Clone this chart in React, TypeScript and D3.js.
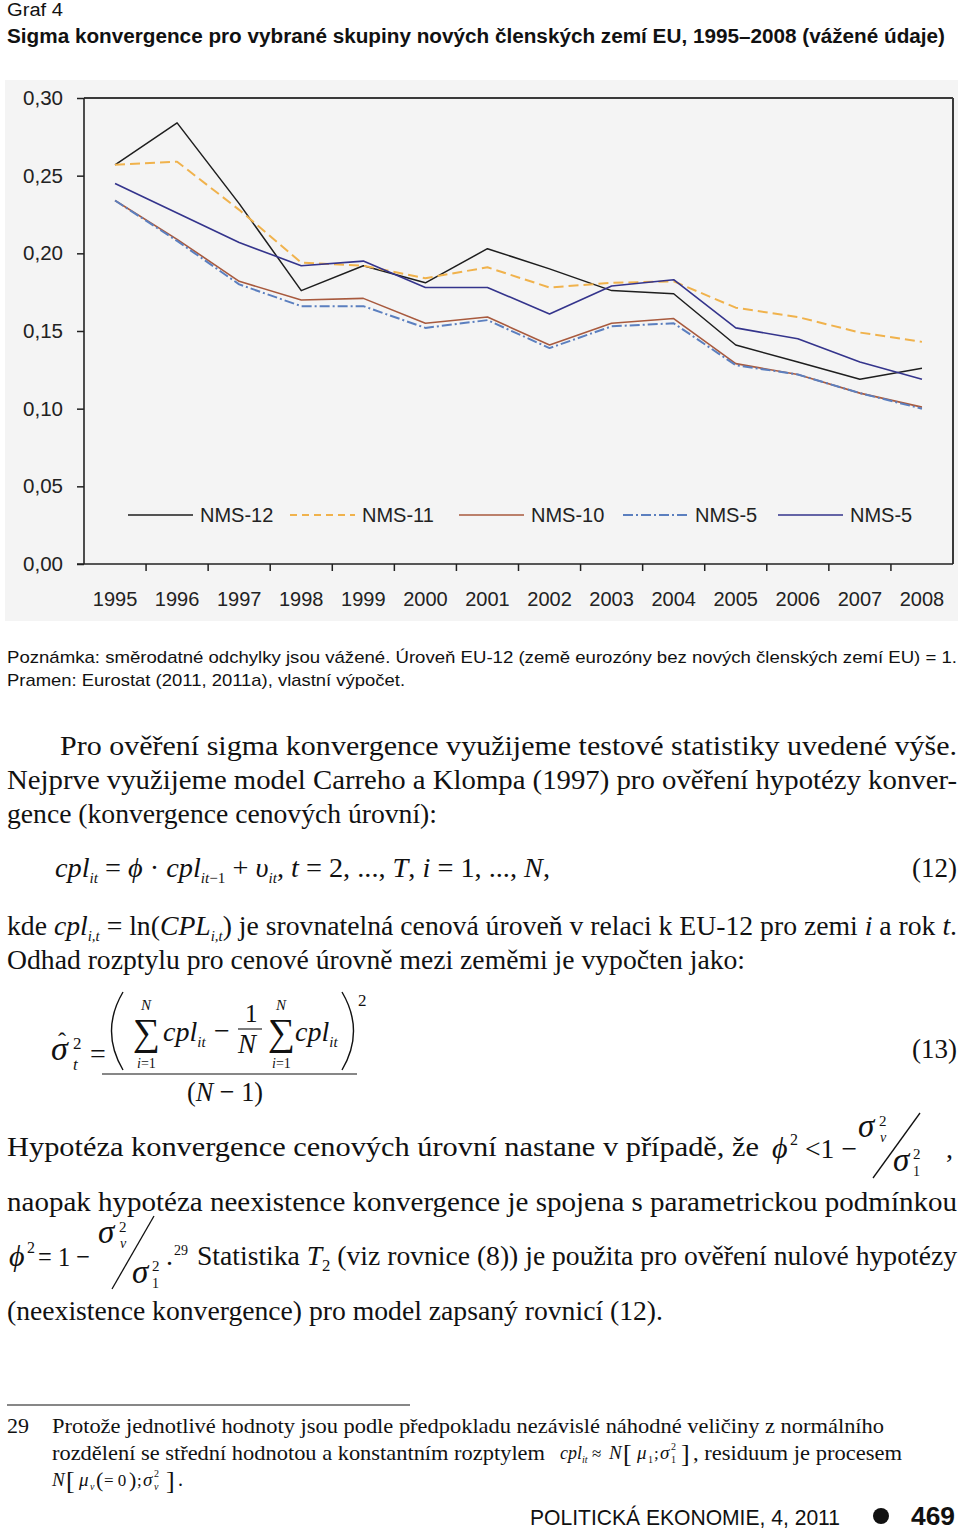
import React, { useEffect, useRef } from 'react';
import * as d3 from 'd3';

const years = ['1995','1996','1997','1998','1999','2000','2001','2002','2003','2004','2005','2006','2007','2008'];
const nms12 = [0.257,0.284,0.232,0.176,0.192,0.181,0.203,0.190,0.176,0.174,0.141,0.130,0.119,0.126];
const nms11 = [0.257,0.259,0.228,0.194,0.192,0.184,0.191,0.178,0.181,0.182,0.165,0.159,0.149,0.143];
const nms10 = [0.234,0.209,0.182,0.170,0.171,0.155,0.159,0.141,0.155,0.158,0.129,0.122,0.110,0.101];
const nms5a = [0.234,0.208,0.180,0.166,0.166,0.152,0.157,0.139,0.153,0.155,0.128,0.122,0.110,0.100];
const nms5b = [0.245,0.226,0.207,0.192,0.195,0.178,0.178,0.161,0.179,0.183,0.152,0.145,0.130,0.119];
const yTicks = [0, 0.05, 0.1, 0.15, 0.2, 0.25, 0.3];
const seriesNames = ['NMS-12', 'NMS-11', 'NMS-10', 'NMS-5', 'NMS-5'];

const serif = "'Liberation Serif', 'Times New Roman', serif";
const sans = "'Liberation Sans', Arial, sans-serif";

const series = [
  { name: seriesNames[0], values: nms12, color: '#1e1e1e', width: 1.5, dash: '', legendDash: '' },
  { name: seriesNames[1], values: nms11, color: '#f0b24c', width: 2, dash: '10,5', legendDash: '7,5' },
  { name: seriesNames[2], values: nms10, color: '#a85a3e', width: 1.6, dash: '', legendDash: '' },
  { name: seriesNames[3], values: nms5a, color: '#5b7fbf', width: 2, dash: '10,3,2,3', legendDash: '10,3,2,3' },
  { name: seriesNames[4], values: nms5b, color: '#34348c', width: 1.6, dash: '', legendDash: '' },
];
const legendX = [128, 290, 459, 623, 778];

const PL = 84, PR = 953, PT = 98, PB = 564;

const Sub = ({ children, size = 15, d = 6 }: any) => (
  <tspan baselineShift={-d} fontSize={size}>{children}</tspan>
);

export default function App() {
  const axisRef = useRef<SVGGElement>(null);
  const x = d3.scaleBand<string>().domain(years).range([PL, PR]).padding(0);
  const y = d3.scaleLinear().domain([0, 0.3]).range([PB, PT]);
  const line = d3.line<number>()
    .x((_, i) => (x(years[i]) as number) + x.bandwidth() / 2)
    .y(d => y(d));

  useEffect(() => {
    const g = d3.select(axisRef.current);
    g.selectAll('*').remove();
    const ya = g.append('g').attr('transform', `translate(${PL},0)`)
      .call(d3.axisLeft(y).tickValues(yTicks).tickSize(7).tickPadding(14)
        .tickFormat(d => d3.format('.2f')(d as number).replace('.', ',')));
    ya.select('.domain').remove();
    ya.selectAll('line').attr('stroke', '#222').attr('stroke-width', 1.5);
    ya.selectAll('text').attr('font-family', sans).attr('font-size', 20).attr('fill', '#222')
      .attr('textLength', 40).attr('lengthAdjust', 'spacingAndGlyphs');

    const xa = g.append('g').attr('transform', `translate(0,${PB})`)
      .call(d3.axisBottom(x).tickSize(0).tickPadding(0));
    xa.select('.domain').remove();
    xa.selectAll('text').attr('font-family', sans).attr('font-size', 20).attr('fill', '#222')
      .attr('y', 42).attr('dy', 0);
    xa.selectAll('.bound').data(years.slice(1)).enter().append('line')
      .attr('x1', d => x(d) as number).attr('x2', d => x(d) as number)
      .attr('y1', 0).attr('y2', 7).attr('stroke', '#222').attr('stroke-width', 1.5);
  }, []);

  return (
    <div style={{ position: 'absolute', left: 0, top: 0 }}>
      <svg width={960} height={1528} style={{ display: 'block', background: '#fff' }}>
        {/* header */}
        <text x={7} y={16} fontFamily={sans} fontSize={18} fill="#111" textLength={56} lengthAdjust="spacingAndGlyphs">Graf 4</text>
        <text x={7} y={43} fontFamily={sans} fontSize={20} fontWeight="bold" fill="#111" textLength={938} lengthAdjust="spacingAndGlyphs">Sigma konvergence pro vybrané skupiny nových členských zemí EU, 1995–2008 (vážené údaje)</text>

        {/* chart */}
        <rect x={5} y={80} width={953} height={541} fill="#f4f4f4" />
        <g ref={axisRef} />
        {series.map((s, i) => (
          <path key={i} d={line(s.values) || ''} fill="none" stroke={s.color} strokeWidth={s.width}
            strokeDasharray={s.dash || undefined} strokeLinejoin="round" />
        ))}
        <line x1={PL} y1={PT} x2={PR} y2={PT} stroke="#3a3a3a" strokeWidth={2} />
        <line x1={PR} y1={PT} x2={PR} y2={PB} stroke="#3a3a3a" strokeWidth={2} />
        <line x1={PL} y1={PT} x2={PL} y2={PB} stroke="#222" strokeWidth={1.6} />
        <line x1={PL - 7} y1={PB} x2={PR} y2={PB} stroke="#222" strokeWidth={1.6} />
        {series.map((s, i) => (
          <g key={i}>
            <line x1={legendX[i]} x2={legendX[i] + 65} y1={515} y2={515} stroke={s.color}
              strokeWidth={s.width} strokeDasharray={s.legendDash || undefined} />
            <text x={legendX[i] + 72} y={522} fontFamily={sans} fontSize={20} fill="#222">{s.name}</text>
          </g>
        ))}

        {/* notes */}
        <text x={7} y={663} fontFamily={sans} fontSize={17} fill="#111" textLength={950} lengthAdjust="spacingAndGlyphs">Poznámka: směrodatné odchylky jsou vážené. Úroveň EU-12 (země eurozóny bez nových členských zemí EU) = 1.</text>
        <text x={7} y={686} fontFamily={sans} fontSize={17} fill="#111" textLength={398} lengthAdjust="spacingAndGlyphs">Pramen: Eurostat (2011, 2011a), vlastní výpočet.</text>

        <g fontFamily={serif} fontSize={28} fill="#111">
          <text x={60} y={755} textLength={897} lengthAdjust="spacingAndGlyphs">Pro ověření sigma konvergence využijeme testové statistiky uvedené výše.</text>
          <text x={7} y={789} textLength={950} lengthAdjust="spacingAndGlyphs">Nejprve využijeme model Carreho a Klompa (1997) pro ověření hypotézy konver-</text>
          <text x={7} y={823} textLength={430} lengthAdjust="spacingAndGlyphs">gence (konvergence cenových úrovní):</text>

          {/* eq 12 */}
          <text x={55} y={877} textLength={495} lengthAdjust="spacingAndGlyphs">
            <tspan fontStyle="italic">cpl</tspan><Sub><tspan fontStyle="italic">it</tspan></Sub>
            <tspan> = </tspan><tspan fontStyle="italic">ϕ</tspan><tspan> · </tspan>
            <tspan fontStyle="italic">cpl</tspan><Sub><tspan fontStyle="italic">it</tspan>−1</Sub>
            <tspan> + </tspan><tspan fontStyle="italic">υ</tspan><Sub><tspan fontStyle="italic">it</tspan></Sub>
            <tspan>,  </tspan><tspan fontStyle="italic">t</tspan><tspan> = 2, ..., </tspan><tspan fontStyle="italic">T</tspan>
            <tspan>,  </tspan><tspan fontStyle="italic">i</tspan><tspan> = 1, ..., </tspan><tspan fontStyle="italic">N</tspan><tspan>,</tspan>
          </text>
          <text x={912} y={877} textLength={45} lengthAdjust="spacingAndGlyphs">(12)</text>

          <text x={7} y={935} textLength={950} lengthAdjust="spacingAndGlyphs">
            <tspan>kde </tspan><tspan fontStyle="italic">cpl</tspan><Sub><tspan fontStyle="italic">i,t</tspan></Sub>
            <tspan> = ln(</tspan><tspan fontStyle="italic">CPL</tspan><Sub><tspan fontStyle="italic">i,t</tspan></Sub>
            <tspan>) je srovnatelná cenová úroveň v relaci k EU-12 pro zemi </tspan><tspan fontStyle="italic">i</tspan>
            <tspan> a rok </tspan><tspan fontStyle="italic">t</tspan><tspan>.</tspan>
          </text>
          <text x={7} y={969} textLength={738} lengthAdjust="spacingAndGlyphs">Odhad rozptylu pro cenové úrovně mezi zeměmi je vypočten jako:</text>

          {/* eq 13 */}
          <text x={51} y={1060} fontSize={34} fontStyle="italic">σ</text>
          <text x={58} y={1049} fontSize={24}>ˆ</text>
          <text x={73} y={1049} fontSize={17}>2</text>
          <text x={73} y={1070} fontSize={17} fontStyle="italic">t</text>
          <text x={90} y={1063}>=</text>
          <line x1={102} x2={357} y1={1074} y2={1074} stroke="#111" strokeWidth={1.2} />
          <path d="M123,992 Q100,1031 123,1070" fill="none" stroke="#111" strokeWidth={1.4} />
          <path d="M342,992 Q365,1031 342,1070" fill="none" stroke="#111" strokeWidth={1.4} />
          <text x={133} y={1045} fontSize={38}>∑</text>
          <text x={141} y={1010} fontSize={15} fontStyle="italic">N</text>
          <text x={137} y={1068} fontSize={14}><tspan fontStyle="italic">i</tspan>=1</text>
          <text x={163} y={1041} fontStyle="italic">cpl<Sub size={15}>it</Sub></text>
          <text x={214} y={1040}>−</text>
          <text x={245} y={1022} fontSize={25}>1</text>
          <line x1={238} x2={262} y1={1029} y2={1029} stroke="#111" strokeWidth={1.1} />
          <text x={238} y={1053} fontSize={27} fontStyle="italic">N</text>
          <text x={268} y={1045} fontSize={38}>∑</text>
          <text x={276} y={1010} fontSize={15} fontStyle="italic">N</text>
          <text x={272} y={1068} fontSize={14}><tspan fontStyle="italic">i</tspan>=1</text>
          <text x={295} y={1041} fontStyle="italic">cpl<Sub size={15}>it</Sub></text>
          <text x={358} y={1006} fontSize={17}>2</text>
          <text x={187} y={1101} textLength={76} lengthAdjust="spacingAndGlyphs">(<tspan fontStyle="italic">N</tspan> − 1)</text>
          <text x={912} y={1058} textLength={45} lengthAdjust="spacingAndGlyphs">(13)</text>

          {/* hypothesis */}
          <text x={7} y={1156} textLength={752} lengthAdjust="spacingAndGlyphs">Hypotéza konvergence cenových úrovní nastane v případě, že</text>
          <text x={772} y={1158} fontStyle="italic" fontSize={30}>ϕ</text>
          <text x={790} y={1145} fontSize={16}>2</text>
          <text x={805} y={1158} textLength={52} lengthAdjust="spacingAndGlyphs">&lt;1 −</text>
          <text x={858} y={1137} fontStyle="italic" fontSize={33}>σ</text>
          <text x={879} y={1126} fontSize={15}>2</text>
          <text x={880} y={1142} fontSize={14} fontStyle="italic">v</text>
          <line x1={873} y1={1178} x2={920} y2={1113} stroke="#111" strokeWidth={1.3} />
          <text x={893} y={1171} fontStyle="italic" fontSize={33}>σ</text>
          <text x={913} y={1159} fontSize={15}>2</text>
          <text x={913} y={1176} fontSize={14}>1</text>
          <text x={946} y={1158}>,</text>

          <text x={7} y={1211} textLength={950} lengthAdjust="spacingAndGlyphs">naopak hypotéza neexistence konvergence je spojena s parametrickou podmínkou</text>

          <text x={9} y={1266} fontStyle="italic" fontSize={30}>ϕ</text>
          <text x={27} y={1253} fontSize={16}>2</text>
          <text x={38} y={1266} textLength={52} lengthAdjust="spacingAndGlyphs">= 1 −</text>
          <text x={98} y={1243} fontStyle="italic" fontSize={33}>σ</text>
          <text x={119} y={1232} fontSize={15}>2</text>
          <text x={120} y={1248} fontSize={14} fontStyle="italic">v</text>
          <line x1={112} y1={1289} x2={154} y2={1216} stroke="#111" strokeWidth={1.3} />
          <text x={132} y={1283} fontStyle="italic" fontSize={33}>σ</text>
          <text x={152} y={1271} fontSize={15}>2</text>
          <text x={152} y={1288} fontSize={14}>1</text>
          <text x={166} y={1265}>.</text>
          <text x={174} y={1255} fontSize={14}>29</text>
          <text x={197} y={1265} textLength={760} lengthAdjust="spacingAndGlyphs">
            <tspan>Statistika </tspan><tspan fontStyle="italic">T</tspan><Sub size={17}>2</Sub>
            <tspan> (viz rovnice (8)) je použita pro ověření nulové hypotézy</tspan>
          </text>
          <text x={7} y={1320} textLength={656} lengthAdjust="spacingAndGlyphs">(neexistence konvergence) pro model zapsaný rovnicí (12).</text>
        </g>

        {/* footnote */}
        <line x1={7} x2={410} y1={1405} y2={1405} stroke="#111" strokeWidth={1.2} />
        <g fontFamily={serif} fontSize={22} fill="#111">
          <text x={7} y={1433} textLength={22} lengthAdjust="spacingAndGlyphs">29</text>
          <text x={52} y={1433} textLength={832} lengthAdjust="spacingAndGlyphs">Protože jednotlivé hodnoty jsou podle předpokladu nezávislé náhodné veličiny z normálního</text>
          <text x={52} y={1460} textLength={493} lengthAdjust="spacingAndGlyphs">rozdělení se střední hodnotou a konstantním rozptylem</text>
          <text x={560} y={1459} fontSize={18} fontStyle="italic">cpl<Sub size={10} d={4}>it</Sub></text>
          <text x={592} y={1459} fontSize={17}>≈</text>
          <text x={609} y={1459} fontSize={19} fontStyle="italic">N</text>
          <text x={623} y={1462} fontSize={26}>[</text>
          <text x={637} y={1459} fontSize={19} fontStyle="italic">μ</text>
          <text x={648} y={1463} fontSize={10}>1</text>
          <text x={654} y={1459} fontSize={17}>;</text>
          <text x={660} y={1459} fontSize={19} fontStyle="italic">σ</text>
          <text x={671} y={1450} fontSize={10}>2</text>
          <text x={671} y={1463} fontSize={10}>1</text>
          <text x={681} y={1462} fontSize={26}>]</text>
          <text x={693} y={1460} textLength={209} lengthAdjust="spacingAndGlyphs">, residuum je procesem</text>
          <text x={52} y={1486} fontSize={19} fontStyle="italic">N</text>
          <text x={66} y={1489} fontSize={26}>[</text>
          <text x={79} y={1486} fontSize={19} fontStyle="italic">μ</text>
          <text x={90} y={1490} fontSize={10} fontStyle="italic">v</text>
          <text x={96} y={1487} fontSize={22}>(</text>
          <text x={104} y={1486} fontSize={17}>= 0</text>
          <text x={129} y={1487} fontSize={22}>)</text>
          <text x={137} y={1486} fontSize={17}>;</text>
          <text x={143} y={1486} fontSize={19} fontStyle="italic">σ</text>
          <text x={154} y={1477} fontSize={10}>2</text>
          <text x={154} y={1490} fontSize={10} fontStyle="italic">v</text>
          <text x={166} y={1489} fontSize={26}>]</text>
          <text x={178} y={1486} fontSize={20}>.</text>
        </g>

        {/* footer */}
        <text x={530} y={1525} fontFamily={sans} fontSize={22} fill="#111" textLength={310} lengthAdjust="spacingAndGlyphs">POLITICKÁ EKONOMIE, 4, 2011</text>
        <circle cx={881} cy={1516} r={8} fill="#111" />
        <text x={911} y={1525} fontFamily={sans} fontSize={25} fontWeight="bold" fill="#111" textLength={44} lengthAdjust="spacingAndGlyphs">469</text>
      </svg>
    </div>
  );
}
